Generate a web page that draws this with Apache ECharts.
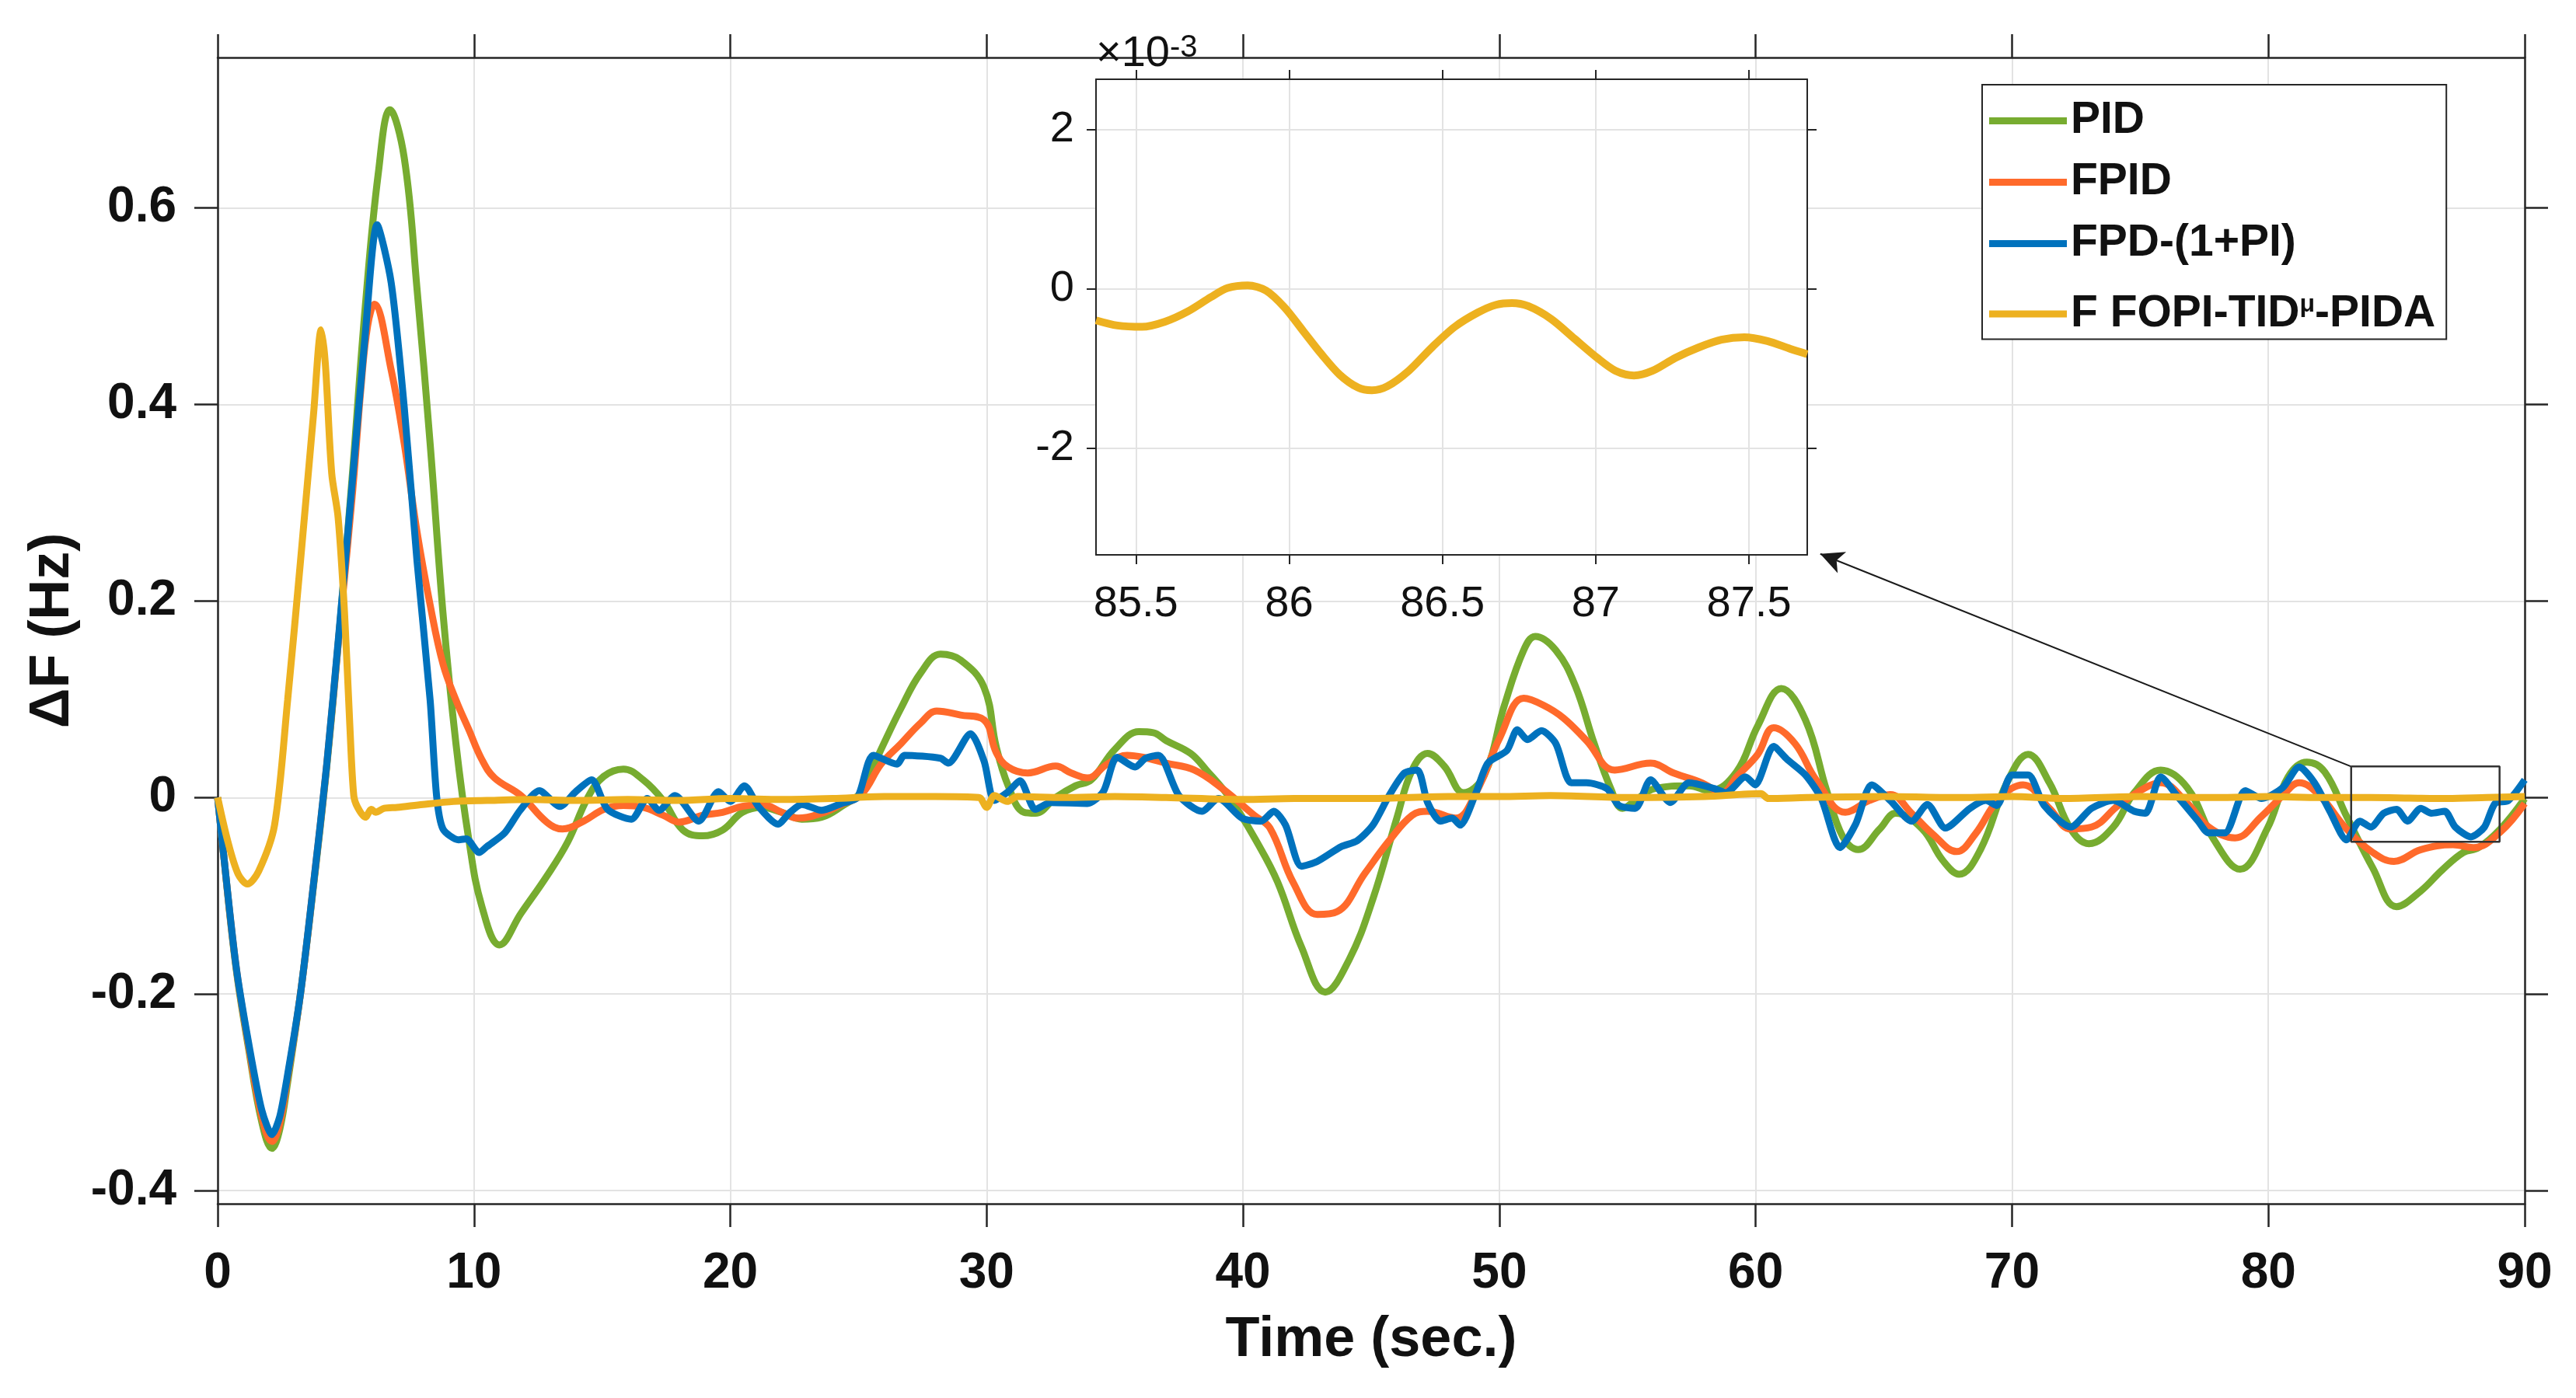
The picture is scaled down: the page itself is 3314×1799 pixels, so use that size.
<!DOCTYPE html>
<html><head><meta charset="utf-8">
<script src="https://cdn.jsdelivr.net/npm/echarts@6/dist/echarts.min.js"></script>
<style>html,body{margin:0;padding:0;background:#fff}#c{width:3314px;height:1799px}</style>
</head><body><div id="c"></div><script>
// ---- data (time in s, deviation in Hz) ----
const seriesNames = ['PID', 'FPID', 'FPD-(1+PI)', 'F FOPI-TIDμ-PIDA'];
const xTicks = [0,10,20,30,40,50,60,70,80,90];
const yTicks = [-0.4,-0.2,0,0.2,0.4,0.6];
const insetXTicks = [85.5,86,86.5,87,87.5];
const insetYTicks = [-2,0,2];

const PID = [[0,0],[0.2,-0.05],[0.71,-0.172],[1.21,-0.256],[1.72,-0.33],[2.12,-0.357],[2.42,-0.338],[2.73,-0.29],[3.23,-0.2],[3.74,-0.09],[4.25,0.03],[4.75,0.17],[5.26,0.33],[5.76,0.50],[6.27,0.636],[6.72,0.700],[7.28,0.651],[7.78,0.517],[8.29,0.360],[8.79,0.188],[9.3,0.054],[9.8,-0.043],[10.3,-0.110],[11.0,-0.150],[11.83,-0.118],[12.84,-0.080],[13.66,-0.045],[14.44,0],[15.06,0.0215],[15.83,0.029],[16.6,0.018],[17.38,-0.003],[18.15,-0.033],[18.92,-0.039],[19.7,-0.033],[20.47,-0.015],[21.24,-0.010],[22.0,-0.015],[22.79,-0.022],[23.56,-0.020],[24.34,-0.009],[25.11,0.006],[25.88,0.049],[26.66,0.091],[27.43,0.127],[28.2,0.146],[28.98,0.140],[29.9,0.112],[30.37,0.052],[30.84,0.012],[31.45,-0.015],[31.9,-0.016],[32.69,0],[33.47,0.012],[34.08,0.018],[35.0,0.049],[35.94,0.067],[36.5,0.066],[37.0,0.058],[37.95,0.045],[38.57,0.028],[39.5,-0.001],[40.58,-0.047],[41.35,-0.086],[42.28,-0.152],[43.21,-0.198],[44.14,-0.165],[45.07,-0.103],[46.0,-0.021],[46.6,0.028],[47.2,0.045],[47.85,0.032],[48.6,0.005],[49.4,0.022],[50.2,0.094],[50.95,0.150],[51.4,0.164],[52.2,0.150],[52.96,0.114],[53.7,0.055],[54.35,0.009],[54.8,-0.011],[55.4,-0.001],[56.05,0.009],[57.4,0.012],[58.22,0.007],[59.25,0.026],[60.08,0.073],[61.0,0.111],[61.94,0.079],[62.77,0.007],[63.4,-0.040],[64.0,-0.053],[64.84,-0.032],[65.46,-0.016],[66.5,-0.032],[67.3,-0.064],[67.94,-0.078],[68.77,-0.053],[69.8,0.015],[70.63,0.044],[71.46,0.015],[72.29,-0.032],[73.0,-0.047],[73.95,-0.030],[74.77,0.005],[75.8,0.028],[76.84,0.010],[77.88,-0.043],[78.9,-0.073],[79.95,-0.032],[80.77,0.021],[81.5,0.036],[82.2,0.026],[83.05,-0.019],[84.08,-0.072],[85.0,-0.111],[85.95,-0.095],[86.77,-0.074],[87.6,-0.056],[88.2,-0.051],[89.05,-0.032],[90,-0.001]];

const FPID = [[0,0],[0.2,-0.05],[0.71,-0.17],[1.21,-0.253],[1.72,-0.325],[2.12,-0.35],[2.42,-0.332],[2.73,-0.285],[3.23,-0.2],[3.74,-0.088],[4.25,0.032],[4.75,0.17],[5.26,0.31],[5.6,0.42],[5.85,0.48],[6.11,0.502],[6.77,0.435],[7.28,0.360],[7.78,0.270],[8.29,0.196],[8.79,0.136],[9.3,0.099],[9.8,0.069],[10.3,0.039],[10.8,0.020],[11.83,0.002],[12.84,-0.025],[13.45,-0.032],[14.28,-0.024],[15.06,-0.012],[15.83,-0.008],[16.6,-0.010],[17.38,-0.018],[18.0,-0.025],[18.92,-0.018],[19.7,-0.015],[20.47,-0.009],[21.24,-0.007],[22.0,-0.015],[22.64,-0.021],[23.56,-0.016],[24.34,-0.007],[25.11,0.003],[25.88,0.034],[26.66,0.055],[27.43,0.076],[28.05,0.088],[28.98,0.084],[29.9,0.079],[30.37,0.046],[30.84,0.031],[31.6,0.025],[32.69,0.032],[33.3,0.025],[33.93,0.020],[34.7,0.034],[35.48,0.043],[36.1,0.041],[37.0,0.035],[38.1,0.028],[39.2,0.009],[40.43,-0.018],[41.05,-0.031],[41.97,-0.087],[42.9,-0.119],[43.68,-0.116],[44.76,-0.077],[45.7,-0.044],[46.6,-0.018],[47.2,-0.014],[48.3,-0.021],[49.09,0.005],[50.02,0.061],[50.95,0.101],[51.72,0.094],[52.5,0.081],[53.4,0.058],[54.5,0.028],[55.9,0.035],[56.8,0.025],[57.9,0.015],[58.7,0.005],[59.25,0.021],[60.08,0.044],[60.7,0.071],[61.53,0.055],[62.36,0.018],[63.5,-0.015],[64.43,-0.003],[65.25,0.003],[66.08,-0.016],[66.9,-0.037],[67.84,-0.055],[68.57,-0.037],[69.5,-0.001],[70.43,0.013],[71.46,-0.011],[72.29,-0.032],[73.1,-0.030],[74.15,-0.008],[75.2,0.010],[75.8,0.015],[76.84,-0.006],[77.67,-0.030],[78.7,-0.041],[79.74,-0.019],[80.56,0.002],[81.2,0.015],[82.0,0.002],[83.05,-0.032],[84.08,-0.056],[84.9,-0.065],[85.95,-0.053],[87.2,-0.048],[88.0,-0.051],[89.05,-0.035],[90,-0.006]];

const FPD = [[0,0],[0.2,-0.05],[0.71,-0.17],[1.21,-0.25],[1.72,-0.318],[2.12,-0.343],[2.42,-0.325],[2.73,-0.282],[3.23,-0.2],[3.74,-0.088],[4.25,0.032],[4.75,0.173],[5.26,0.323],[5.76,0.472],[6.22,0.583],[6.77,0.524],[7.28,0.397],[7.78,0.240],[8.29,0.099],[8.54,0.002],[8.79,-0.032],[9.4,-0.043],[9.7,-0.042],[10.2,-0.056],[10.5,-0.050],[11.2,-0.036],[11.8,-0.013],[12.55,0.007],[13.35,-0.009],[13.97,0.006],[14.59,0.018],[15.21,-0.012],[16.14,-0.022],[16.76,-0.001],[17.22,-0.013],[17.84,0.002],[18.77,-0.024],[19.54,0.006],[20.0,-0.004],[20.55,0.012],[21.09,-0.009],[21.86,-0.027],[22.33,-0.015],[22.79,-0.007],[23.56,-0.013],[24.34,-0.006],[24.96,0],[25.58,0.043],[26.5,0.034],[26.8,0.043],[28.2,0.040],[28.5,0.035],[29.37,0.065],[29.9,0.037],[30.3,-0.003],[30.84,0.006],[31.3,0.017],[31.9,-0.012],[32.5,-0.005],[33.93,-0.006],[34.55,0.006],[35.09,0.041],[35.79,0.031],[36.2,0.040],[36.7,0.043],[37.5,0.002],[38.4,-0.014],[39.04,-0.001],[39.96,-0.021],[40.7,-0.024],[41.2,-0.014],[41.66,-0.028],[42.28,-0.070],[42.9,-0.065],[43.83,-0.050],[44.45,-0.044],[45.07,-0.028],[45.7,0.002],[46.3,0.025],[46.8,0.028],[47.2,-0.005],[47.7,-0.024],[48.16,-0.021],[48.47,-0.028],[49.09,0.005],[49.55,0.035],[50.3,0.048],[50.7,0.069],[51.1,0.059],[51.64,0.068],[52.2,0.055],[52.8,0.015],[53.4,0.015],[54.2,0.009],[54.66,-0.008],[55.3,-0.011],[55.9,0.018],[56.67,-0.005],[57.4,0.015],[58.4,0.009],[58.84,0.005],[59.6,0.021],[59.98,0.013],[60.7,0.052],[61.22,0.039],[61.94,0.023],[62.56,-0.001],[63.29,-0.051],[63.9,-0.027],[64.53,0.013],[65.25,-0.003],[66.08,-0.024],[66.7,-0.007],[67.4,-0.031],[68.36,-0.011],[68.98,-0.003],[69.4,-0.008],[70.0,0.023],[70.63,0.023],[71.25,-0.008],[72.29,-0.030],[73.1,-0.011],[73.95,-0.003],[74.77,-0.014],[75.2,-0.016],[75.8,0.021],[76.43,0.002],[77.26,-0.024],[77.67,-0.036],[78.3,-0.036],[79.1,0.007],[79.74,-0.001],[80.56,0.010],[81.2,0.031],[81.8,0.015],[82.4,-0.014],[83.05,-0.043],[83.57,-0.024],[84.0,-0.030],[84.5,-0.016],[85.0,-0.012],[85.43,-0.024],[85.95,-0.011],[86.36,-0.016],[86.88,-0.014],[87.29,-0.030],[87.9,-0.040],[88.43,-0.030],[88.84,-0.006],[89.36,-0.003],[90,0.018]];

const FOPI = [[0,0],[0.4,-0.045],[0.8,-0.078],[1.16,-0.088],[1.6,-0.075],[2.22,-0.028],[2.73,0.099],[3.23,0.240],[3.74,0.390],[4.04,0.476],[4.2,0.442],[4.45,0.330],[4.7,0.285],[4.95,0.188],[5.15,0.077],[5.31,0.002],[5.46,-0.010],[5.76,-0.020],[6.0,-0.012],[6.16,-0.015],[6.5,-0.011],[7.0,-0.010],[8.0,-0.007],[9.2,-0.004],[10.5,-0.003],[12.2,-0.002],[14,-0.003],[16,-0.002],[18,-0.003],[20,-0.001],[22,-0.002],[24,-0.001],[26,0.001],[28,0.001],[29.7,0.0],[30.0,-0.010],[30.3,0.002],[30.8,-0.004],[31.2,0.001],[33,0],[35,0.001],[37,0],[40,-0.002],[42,-0.001],[45,-0.001],[48,0.001],[50,0.001],[52,0.002],[55,0],[58,0.001],[60.2,0.004],[60.5,-0.001],[62,0],[65,0.001],[68,0],[70,0.001],[72,-0.001],[75,0.001],[78,0],[80,0.001],[82,0],[84,0.0],[85.5,-0.0005],[87,-0.001],[88.5,0],[90,0.001]];

// inset zoom of F FOPI-TIDμ-PIDA (values ×10^-3)
const FOPIzoom = [[85.37,-0.396],[85.44,-0.461],[85.52,-0.478],[85.595,-0.413],[85.67,-0.283],[85.745,-0.104],[85.80,0.01],[85.865,0.042],[85.925,-0.023],[85.985,-0.234],[86.045,-0.526],[86.105,-0.819],[86.165,-1.079],[86.225,-1.241],[86.27,-1.274],[86.32,-1.225],[86.39,-1.03],[86.465,-0.738],[86.54,-0.478],[86.615,-0.299],[86.675,-0.201],[86.727,-0.179],[86.78,-0.218],[86.855,-0.380],[86.93,-0.624],[87.005,-0.867],[87.065,-1.03],[87.125,-1.088],[87.185,-1.03],[87.26,-0.867],[87.335,-0.738],[87.41,-0.64],[87.485,-0.608],[87.56,-0.656],[87.635,-0.754],[87.69,-0.82]];

// zoom rectangle (data coords) and arrow target (data coords)
const zoomT = [83.23, 89.02];
const zoomV = [-0.045, 0.0316];
const arrowTip = [62.52, 0.248];

const colors = ['#77AC30', '#FF6A2B', '#0072BD', '#EDB120'];
const FONT = "'Liberation Sans', Arial, Helvetica, sans-serif";
const DARK = '#262626';
const GRID = '#e3e3e3';

const chart = echarts.init(document.getElementById('c'), null, {renderer: 'canvas', width: 3314, height: 1799});

function lineSeries(name, data, color, smooth, extra) {
  return Object.assign({
    name, type: 'line', data, symbol: 'none', showSymbol: false, smooth,
    xAxisIndex: 0, yAxisIndex: 0, z: 2,
    lineStyle: {width: 9, color}, itemStyle: {color}, animation: false
  }, extra || {});
}

const rectData = [[zoomT[0], zoomV[1]], [zoomT[1], zoomV[1]], [zoomT[1], zoomV[0]], [zoomT[0], zoomV[0]], [zoomT[0], zoomV[1]]];

const option = {
  backgroundColor: '#ffffff',
  animation: false,
  textStyle: {fontFamily: FONT},
  grid: [
    {left: 280, top: 74, width: 2968, height: 1475, show: false},
    {left: 1410, top: 102, width: 915, height: 612, show: true, backgroundColor: '#ffffff', borderWidth: 0, z: 1}
  ],
  legend: {
    data: seriesNames,
    orient: 'vertical', left: 2550, top: 109,
    padding: [18, 14, 4, 9],
    icon: 'rect',
    itemWidth: 100, itemHeight: 9, itemGap: 22,
    backgroundColor: '#ffffff', borderColor: DARK, borderWidth: 2, borderRadius: 0,
    z: 10,
    formatter: name => name === 'F FOPI-TIDμ-PIDA' ? '{n|F FOPI-TID}{s|μ}{n|-PIDA}' : name,
    textStyle: {
      fontSize: 57, fontWeight: 'bold', color: '#111', fontFamily: FONT,
      rich: {
        n: {fontSize: 57, fontWeight: 'bold', color: '#111', fontFamily: FONT, lineHeight: 80},
        s: {fontSize: 32, fontWeight: 'bold', color: '#111', fontFamily: FONT, lineHeight: 32, verticalAlign: 'top', padding: [12, 0, 0, 0]}
      }
    }
  },
  xAxis: [
    {
      type: 'value', gridIndex: 0, position: 'bottom', min: 0, max: 90, interval: 10,
      name: 'Time (sec.)', nameLocation: 'middle', nameGap: 140,
      nameTextStyle: {fontSize: 72, fontWeight: 'bold', color: '#111', fontFamily: FONT},
      axisLine: {show: true, onZero: false, lineStyle: {color: DARK, width: 2.5}},
      axisTick: {show: true, inside: false, length: 30, lineStyle: {color: DARK, width: 2.5}},
      axisLabel: {fontSize: 64, fontWeight: 'bold', color: '#111', margin: 58, fontFamily: FONT},
      splitLine: {show: true, lineStyle: {color: GRID, width: 2}}
    },
    {
      type: 'value', gridIndex: 0, position: 'top', min: 0, max: 90, interval: 10,
      axisLine: {show: true, onZero: false, lineStyle: {color: DARK, width: 2.5}},
      axisTick: {show: true, inside: false, length: 30, lineStyle: {color: DARK, width: 2.5}},
      axisLabel: {show: false}, splitLine: {show: false}
    },
    {
      type: 'value', gridIndex: 1, position: 'bottom', min: 85.37, max: 87.69, z: 3,
      axisLine: {show: true, onZero: false, lineStyle: {color: DARK, width: 2}},
      axisTick: {show: true, inside: false, length: 12, customValues: insetXTicks, lineStyle: {color: DARK, width: 2}},
      axisLabel: {fontSize: 56, color: '#111', margin: 36, customValues: insetXTicks, fontFamily: FONT, formatter: v => String(v)},
      splitLine: {show: true, lineStyle: {color: GRID, width: 2}}
    },
    {
      type: 'value', gridIndex: 1, position: 'top', min: 85.37, max: 87.69, z: 3,
      axisLine: {show: true, onZero: false, lineStyle: {color: DARK, width: 2}},
      axisTick: {show: true, inside: false, length: 12, customValues: insetXTicks, lineStyle: {color: DARK, width: 2}},
      axisLabel: {show: false, customValues: insetXTicks}, splitLine: {show: false}
    }
  ],
  yAxis: [
    {
      type: 'value', gridIndex: 0, position: 'left', min: -0.4134, max: 0.7532,
      name: 'ΔF (Hz)', nameLocation: 'middle', nameGap: 176, nameRotate: 90,
      nameTextStyle: {fontSize: 72, fontWeight: 'bold', color: '#111', fontFamily: FONT},
      axisLine: {show: true, onZero: false, lineStyle: {color: DARK, width: 2.5}},
      axisTick: {show: true, inside: false, length: 30, customValues: yTicks, lineStyle: {color: DARK, width: 2.5}},
      axisLabel: {fontSize: 64, fontWeight: 'bold', color: '#111', margin: 53, customValues: yTicks, fontFamily: FONT,
        formatter: v => (Math.abs(v) < 1e-9 ? '0' : v.toFixed(1))},
      splitLine: {show: true, lineStyle: {color: GRID, width: 2}}
    },
    {
      type: 'value', gridIndex: 0, position: 'right', min: -0.4134, max: 0.7532,
      axisLine: {show: true, onZero: false, lineStyle: {color: DARK, width: 2.5}},
      axisTick: {show: true, inside: false, length: 30, customValues: yTicks, lineStyle: {color: DARK, width: 2.5}},
      axisLabel: {show: false, customValues: yTicks}, splitLine: {show: false}
    },
    {
      type: 'value', gridIndex: 1, position: 'left', min: -3.34, max: 2.63, z: 3,
      name: '{a|×10}{b|-3}', nameLocation: 'end', nameGap: 4,
      nameTextStyle: {align: 'left', fontFamily: FONT, color: '#111',
        rich: {a: {fontSize: 56, color: '#111', fontFamily: FONT}, b: {fontSize: 40, color: '#111', fontFamily: FONT, verticalAlign: 'top'}}},
      axisLine: {show: true, onZero: false, lineStyle: {color: DARK, width: 2}},
      axisTick: {show: true, inside: false, length: 12, customValues: insetYTicks, lineStyle: {color: DARK, width: 2}},
      axisLabel: {fontSize: 56, color: '#111', margin: 28, customValues: insetYTicks, fontFamily: FONT, formatter: v => String(v)},
      splitLine: {show: true, lineStyle: {color: GRID, width: 2}}
    },
    {
      type: 'value', gridIndex: 1, position: 'right', min: -3.34, max: 2.63, z: 3,
      axisLine: {show: true, onZero: false, lineStyle: {color: DARK, width: 2}},
      axisTick: {show: true, inside: false, length: 12, customValues: insetYTicks, lineStyle: {color: DARK, width: 2}},
      axisLabel: {show: false, customValues: insetYTicks}, splitLine: {show: false}
    }
  ],
  series: [
    lineSeries('PID', PID, colors[0], 0.4),
    lineSeries('FPID', FPID, colors[1], 0.4),
    lineSeries('FPD-(1+PI)', FPD, colors[2], 0.25),
    lineSeries('F FOPI-TIDμ-PIDA', FOPI, colors[3], 0.3),
    {
      name: 'zoomBox', type: 'line', data: rectData, symbol: 'none', smooth: false, silent: true,
      xAxisIndex: 0, yAxisIndex: 0, z: 5,
      lineStyle: {width: 2.5, color: '#333'},
      markLine: {
        silent: true, symbol: ['none', 'arrow'], symbolSize: [22, 30], precision: 4,
        label: {show: false},
        lineStyle: {color: '#1a1a1a', width: 2, type: 'solid'},
        data: [[{coord: rectData[0]}, {coord: arrowTip}]]
      }
    },
    {
      name: 'insetCurve', type: 'line', data: FOPIzoom, symbol: 'none', smooth: 0.3, silent: true,
      xAxisIndex: 2, yAxisIndex: 2, z: 6,
      lineStyle: {width: 10, color: colors[3]}
    }
  ]
};
chart.setOption(option);
</script></body></html>
